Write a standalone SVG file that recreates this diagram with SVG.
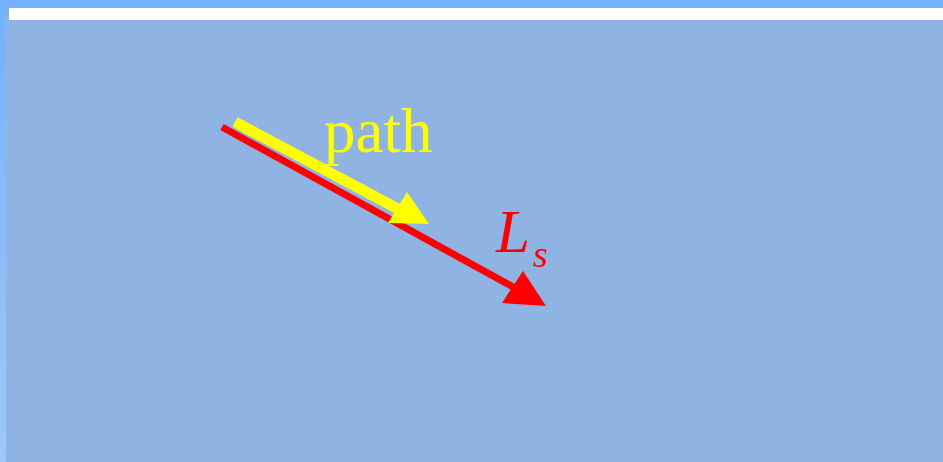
<svg xmlns="http://www.w3.org/2000/svg" width="943" height="462" viewBox="0 0 943 462">
  <defs>
    <linearGradient id="lg" x1="0" y1="0" x2="0" y2="1">
      <stop offset="0" stop-color="#76b0fc"/>
      <stop offset="1" stop-color="#9ec8f6"/>
    </linearGradient>
    <style>
      .lbl { font-family: "Liberation Serif", "Times New Roman", serif; }
    </style>
  </defs>
  <rect x="0" y="0" width="943" height="462" fill="#76b0fc"/>
  <rect x="0" y="0" width="6" height="462" fill="url(#lg)"/>
  <rect x="6" y="13" width="937" height="449" fill="#8fb3e3"/>
  <rect x="9" y="8" width="934" height="12" fill="#ffffff"/>
  <g id="connectors">
    <g id="Ls-arrow">
      <line x1="222" y1="127" x2="515" y2="288" stroke="#ff0000" stroke-width="7"/>
      <polygon points="546,306 502,303 523,271" fill="#ff0000"/>
    </g>
    <g id="path-arrow">
      <line x1="235" y1="122" x2="400" y2="210" stroke="#ffff00" stroke-width="11"/>
      <polygon points="429,224 388,223 407,192" fill="#ffff00"/>
    </g>
  </g>
  <g id="label-path">
    <text class="lbl" x="324" y="152" font-size="63" fill="#ffff00">path</text>
  </g>
  <g id="label-Ls">
    <text class="lbl" x="496" y="252" font-size="61" font-style="italic" fill="#ff0000">L</text>
    <text class="lbl" x="533" y="267" font-size="38" font-style="italic" fill="#ff0000">s</text>
  </g>
</svg>
